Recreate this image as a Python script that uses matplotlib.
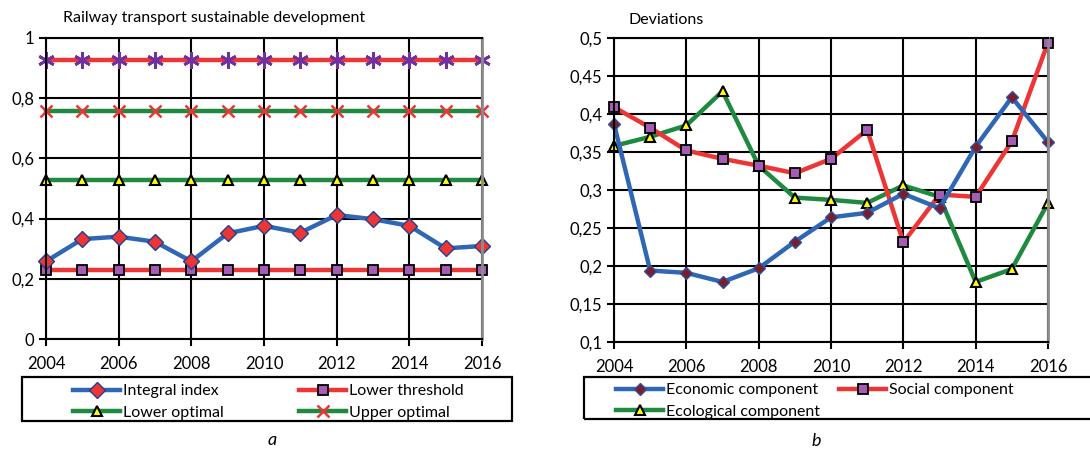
import numpy as np
import matplotlib.pyplot as plt
from matplotlib.patches import Rectangle
from matplotlib.ticker import FuncFormatter, MultipleLocator

plt.rcParams['font.family'] = ['Lato', 'DejaVu Sans']

years = np.arange(2004, 2017)

# chart a
integral_index = [0.258, 0.332, 0.340, 0.323, 0.258, 0.351, 0.376, 0.353, 0.412, 0.398, 0.376, 0.301, 0.309]
lower_threshold = [0.229] * 13
lower_optimal = [0.528] * 13
upper_optimal = [0.757] * 13
upper_threshold = [0.927] * 13

# chart b
economic = [0.387, 0.194, 0.191, 0.179, 0.197, 0.232, 0.264, 0.270, 0.295, 0.276, 0.357, 0.422, 0.363]
social = [0.409, 0.382, 0.352, 0.341, 0.332, 0.322, 0.341, 0.379, 0.231, 0.294, 0.291, 0.364, 0.494]
ecological = [0.358, 0.370, 0.385, 0.430, 0.332, 0.290, 0.287, 0.283, 0.306, 0.291, 0.179, 0.196, 0.283]

BLUE = '#2f67b5'
RED = '#ee3535'
GREEN = '#1f8a3f'
PURPLE = '#a45cb5'
YELLOW = '#ffff00'
LW = 3.2

fig = plt.figure(figsize=(10.9, 4.51), dpi=100, facecolor='w')
W, H = 1090, 451


def px_axes(x0, y0, x1, y1):
    return fig.add_axes([x0 / W, 1 - y1 / H, (x1 - x0) / W, (y1 - y0) / H])


comma = FuncFormatter(lambda v, p: ('%g' % round(v, 3)).replace('.', ','))


def style(ax, ymin, ymax, ystep):
    ax.set_xlim(2004, 2016)
    ax.set_ylim(ymin, ymax)
    ax.xaxis.set_major_locator(MultipleLocator(2))
    ax.yaxis.set_major_locator(MultipleLocator(ystep))
    ax.yaxis.set_major_formatter(comma)
    ax.grid(True, color='black', lw=1.5)
    ax.set_axisbelow(True)
    ax.tick_params(direction='out', length=5, width=1.5, labelsize=12)
    ax.tick_params(axis='x', pad=7)
    for s in ['left', 'bottom', 'top']:
        ax.spines[s].set_linewidth(1.5)
    ax.spines['top'].set_color('black')
    ax.spines['right'].set_color('#8c8c8c')
    ax.spines['right'].set_linewidth(2)


def boxed_legend(handles, labels, frame_px, content_px):
    fx0, fy0, fx1, fy1 = frame_px
    fig.patches.append(Rectangle((fx0 / W, 1 - fy1 / H), (fx1 - fx0) / W, (fy1 - fy0) / H,
                                 transform=fig.transFigure, fill=False, ec='black', lw=1.6))
    cx0, cx1 = content_px
    # content centred a little below the frame centre, as in the original
    fig.legend(handles, labels, ncol=2, mode='expand', frameon=False, loc='center left',
               bbox_to_anchor=(cx0 / W, 1 - (fy1 + 3) / H, (cx1 - cx0) / W, (fy1 - fy0) / H),
               fontsize=11.5, handlelength=2.9, handletextpad=0.2,
               labelspacing=0.45, borderpad=0.4)


# ---- chart a ----
ax1 = px_axes(46, 38, 482, 339)
style(ax1, 0, 1, 0.2)
ax1.plot(years, upper_threshold, color=RED, lw=LW, marker=(6, 2, 0), ms=12,
         mec='#7030a0', mew=2, clip_on=False)
l_uo, = ax1.plot(years, upper_optimal, color=GREEN, lw=LW, marker='x', ms=9,
                 mec=RED, mew=1.8, clip_on=False, label='Upper optimal')
l_lo, = ax1.plot(years, lower_optimal, color=GREEN, lw=LW, marker='^', ms=7.5,
                 mfc=YELLOW, mec='black', mew=1.5, clip_on=False, label='Lower optimal')
l_lt, = ax1.plot(years, lower_threshold, color=RED, lw=LW, marker='s', ms=6.5,
                 mfc=PURPLE, mec='black', mew=1.3, clip_on=False, label='Lower threshold')
l_ii, = ax1.plot(years, integral_index, color=BLUE, lw=LW, marker='D', ms=8,
                 mfc=RED, mec='#1f3f8f', mew=1.0, clip_on=False, label='Integral index')

fig.text(63 / W, 1 - 18 / H, 'Railway transport sustainable development',
         ha='left', va='center', fontsize=11.5)
boxed_legend([l_ii, l_lo, l_lt, l_uo],
             ['Integral index', 'Lower optimal', 'Lower threshold', 'Upper optimal'],
             (22, 377, 512, 421), (59, 478))
fig.text(272 / W, 1 - 440 / H, 'a', ha='center', va='center',
         fontsize=13, style='italic')

# ---- chart b ----
ax2 = px_axes(614, 38, 1048, 342)
style(ax2, 0.1, 0.5, 0.05)
l_eco, = ax2.plot(years, ecological, color=GREEN, lw=LW, marker='^', ms=7.5,
                  mfc=YELLOW, mec='black', mew=1.5, clip_on=False,
                  label='Ecological component')
l_soc, = ax2.plot(years, social, color=RED, lw=LW, marker='s', ms=6.5,
                  mfc=PURPLE, mec='black', mew=1.3, clip_on=False,
                  label='Social component')
l_ec, = ax2.plot(years, economic, color=BLUE, lw=LW, marker='D', ms=6,
                 mfc='#7a1f2a', mec='#2f4f9f', mew=1.0, clip_on=False,
                 label='Economic component')

fig.text(629 / W, 1 - 20 / H, 'Deviations', ha='left', va='center', fontsize=11.5)
boxed_legend([l_ec, l_eco, l_soc],
             ['Economic component', 'Ecological component', 'Social component'],
             (584, 377, 1104, 419), (602, 1028))
fig.text(816 / W, 1 - 441 / H, 'b', ha='center', va='center',
         fontsize=13, style='italic')

fig.savefig('out.png', dpi=100)
